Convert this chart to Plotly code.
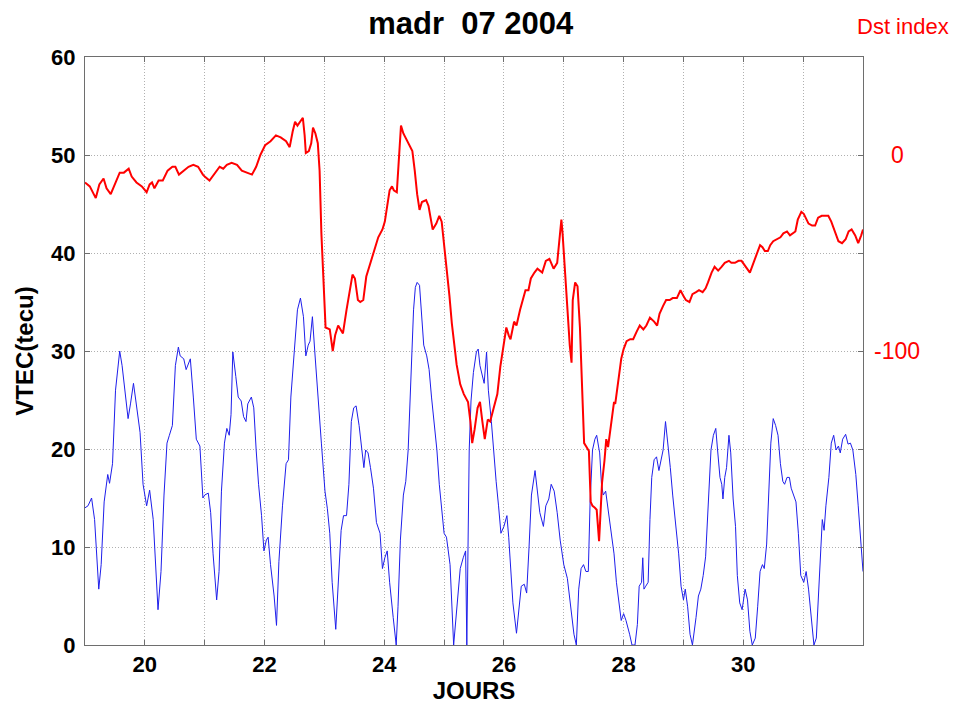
import plotly.graph_objects as go

# --- VTEC at Madrid (TEC units), July 2004, day of month ---
vtec_days = [
    19.00, 19.05, 19.11, 19.16, 19.23, 19.27, 19.32, 19.38, 19.41, 19.46, 19.51, 19.58, 19.62, 19.68,
    19.72, 19.76, 19.81, 19.85, 19.92, 19.97, 20.03, 20.08, 20.14, 20.22, 20.27, 20.32, 20.37, 20.41,
    20.46, 20.51, 20.56, 20.59, 20.65, 20.69, 20.76, 20.81, 20.86, 20.92, 20.97,
    21.00, 21.06, 21.10, 21.14, 21.20, 21.24, 21.28, 21.33, 21.37, 21.41, 21.44, 21.47, 21.52, 21.56,
    21.61, 21.65, 21.69, 21.72, 21.78, 21.82, 21.86, 21.90, 21.95, 21.99, 22.03, 22.06, 22.10, 22.16,
    22.20, 22.24, 22.30, 22.36, 22.40, 22.44, 22.50, 22.55, 22.60, 22.65, 22.69, 22.73, 22.76, 22.80,
    22.84, 22.89, 22.95, 23.01, 23.05,
    23.09, 23.13, 23.19, 23.23, 23.28, 23.32, 23.37, 23.41, 23.45, 23.49, 23.53, 23.58, 23.62, 23.66,
    23.69, 23.73, 23.77, 23.82, 23.87, 23.93, 23.97, 24.01, 24.05, 24.09, 24.15, 24.20, 24.23, 24.27,
    24.32, 24.36, 24.40, 24.44, 24.49, 24.52, 24.55, 24.59, 24.63, 24.66, 24.71, 24.75, 24.79, 24.83,
    24.88, 24.92, 24.96, 25.00, 25.04, 25.10,
    25.16, 25.21, 25.27, 25.32, 25.36, 25.38, 25.40, 25.42, 25.45, 25.49, 25.54, 25.57, 25.60, 25.64,
    25.67, 25.71, 25.74, 25.79, 25.83, 25.87, 25.91, 25.95, 26.00, 26.05, 26.08, 26.11, 26.15, 26.21,
    26.25, 26.29, 26.34, 26.38, 26.42, 26.46, 26.52, 26.56, 26.60, 26.66, 26.70, 26.75, 26.79, 26.84,
    26.89, 26.94, 27.00, 27.06, 27.11, 27.17, 27.21, 27.25,
    27.29, 27.33, 27.37, 27.41, 27.44, 27.48, 27.52, 27.55, 27.58, 27.60, 27.63, 27.66, 27.70, 27.74,
    27.78, 27.84, 27.88, 27.92, 27.96, 28.00, 28.04, 28.10, 28.14, 28.19, 28.23, 28.26, 28.30, 28.32,
    28.34, 28.37, 28.41, 28.44, 28.47, 28.51, 28.55, 28.59, 28.63, 28.66, 28.70, 28.74, 28.78, 28.82,
    28.88, 28.92, 28.96, 29.00, 29.03, 29.07, 29.11, 29.15, 29.21, 29.25, 29.29, 29.33,
    29.37, 29.42, 29.46, 29.50, 29.54, 29.57, 29.61, 29.64, 29.66, 29.69, 29.72, 29.76, 29.79, 29.83,
    29.87, 29.90, 29.94, 29.98, 30.03, 30.07, 30.11, 30.15, 30.20, 30.24, 30.28, 30.32, 30.35, 30.39,
    30.43, 30.46, 30.50, 30.54, 30.58, 30.62, 30.66, 30.69, 30.73, 30.77, 30.80, 30.84, 30.88, 30.92,
    30.96, 31.01, 31.05, 31.09, 31.14, 31.18, 31.22, 31.26, 31.29, 31.32, 31.35, 31.38, 31.43, 31.47,
    31.51, 31.55, 31.59, 31.62, 31.66, 31.71, 31.75, 31.79, 31.83, 31.88, 31.92, 31.96, 31.99, 32.00,
]
vtec_values = [
    14.0, 14.2, 15.0, 12.8, 5.7, 8.2, 14.6, 17.4, 16.5, 18.5, 26.0, 30.0, 28.5, 25.6,
    23.1, 24.6, 26.7, 24.9, 21.7, 16.4, 14.2, 15.8, 12.8, 3.6, 7.5, 15.3, 20.6, 21.4,
    22.4, 28.5, 30.4, 29.5, 29.2, 28.1, 29.2, 25.3, 21.0, 20.3, 15.0,
    15.3, 15.5, 13.5, 9.3, 4.6, 7.5, 15.7, 20.6, 22.1, 21.4, 23.5, 29.9, 27.4, 25.3,
    24.9, 23.3, 22.8, 24.6, 25.3, 24.2, 19.9, 16.4, 13.2, 9.6, 10.7, 11.0, 8.2, 5.0,
    2.0, 8.5, 14.2, 18.5, 18.9, 25.3, 30.2, 34.2, 35.4, 33.5, 29.5, 30.6, 31.0, 33.5,
    29.9, 25.3, 20.6, 15.7, 13.9,
    11.4, 6.4, 1.6, 5.7, 11.7, 13.2, 13.2, 16.4, 22.8, 24.2, 24.4, 22.4, 20.3, 18.1,
    19.9, 19.6, 18.1, 16.0, 12.5, 11.4, 7.8, 8.9, 9.6, 6.4, 2.8, 0.0, 3.9, 10.7,
    15.3, 16.7, 19.9, 27.0, 34.2, 36.5, 37.0, 36.7, 32.7, 30.6, 29.5, 28.1, 25.3, 22.8,
    19.9, 16.4, 13.5, 11.4, 11.0, 8.2,
    0.0, 3.9, 7.8, 8.9, 9.6, 0.0, 9.3, 19.9, 24.9, 27.8, 29.9, 30.2, 28.5, 27.4,
    26.7, 29.9, 26.0, 22.8, 19.6, 16.7, 14.2, 11.4, 12.1, 13.2, 11.0, 8.2, 4.3, 1.2,
    3.9, 6.0, 6.2, 5.3, 10.0, 15.3, 17.8, 15.7, 13.5, 12.1, 14.2, 14.9, 16.4, 15.7,
    13.5, 10.7, 8.2, 6.8, 3.9, 1.1, 0.0, 5.7,
    7.8, 8.2, 7.5, 7.5, 14.6, 19.9, 21.0, 21.4, 20.3, 19.6, 16.4, 15.3, 15.7, 13.9,
    11.7, 9.3, 6.4, 4.3, 2.5, 3.2, 2.5, 1.1, 0.0, 0.0, 2.1, 6.0, 6.4, 8.9,
    5.7, 6.0, 6.4, 12.8, 17.1, 18.9, 19.2, 17.8, 19.2, 19.9, 22.8, 20.6, 18.1, 15.3,
    12.1, 9.3, 6.0, 4.6, 5.7, 3.9, 1.1, 0.0, 2.8, 5.0, 5.7, 7.1,
    9.0, 14.6, 19.9, 21.4, 22.1, 19.9, 17.1, 16.4, 14.9, 17.1, 18.1, 21.4, 19.6, 14.9,
    12.1, 7.1, 4.3, 3.6, 5.7, 4.6, 1.4, 0.0, 0.7, 3.9, 7.5, 8.2, 7.8, 10.3,
    16.4, 20.6, 23.1, 22.4, 21.4, 18.5, 16.7, 16.4, 17.1, 17.1, 16.0, 15.3, 14.6, 11.4,
    7.1, 6.4, 7.5, 5.7, 2.8, 0.0, 0.7, 5.7, 10.3, 12.8, 11.7, 14.2, 17.1, 20.6,
    21.4, 19.9, 20.3, 19.6, 21.0, 21.5, 20.5, 20.6, 19.9, 17.4, 14.2, 10.3, 7.8, 7.5,
]

# --- Dst index (nT) over the same days ---
dst_days = [
    19.00, 19.08, 19.18, 19.24, 19.31, 19.36, 19.43, 19.51, 19.58, 19.65, 19.73, 19.78, 19.86, 19.95,
    20.03, 20.08, 20.12, 20.16, 20.23, 20.30, 20.38, 20.46, 20.51, 20.57, 20.65, 20.73, 20.81, 20.89,
    20.97,
    21.00, 21.08, 21.17, 21.25, 21.31, 21.37, 21.45, 21.54, 21.62, 21.71, 21.79, 21.86, 21.93, 22.01,
    22.10, 22.19, 22.27, 22.36, 22.42, 22.47, 22.51, 22.55, 22.59, 22.64, 22.67, 22.69, 22.74, 22.78,
    22.81, 22.85, 22.89, 22.92, 22.95, 22.98, 23.01, 23.02, 23.09, 23.14, 23.18, 23.23, 23.29,
    23.31, 23.37, 23.42, 23.47, 23.51, 23.56, 23.60, 23.65, 23.70, 23.76, 23.83, 23.90, 23.97, 24.01,
    24.05, 24.09, 24.13, 24.16, 24.21, 24.25, 24.28, 24.32, 24.37, 24.42, 24.47, 24.51, 24.55, 24.59,
    24.63, 24.70, 24.74, 24.78, 24.81, 24.87, 24.92, 24.96, 25.00, 25.04, 25.09, 25.13, 25.17, 25.21,
    25.27, 25.33, 25.40, 25.44, 25.47, 25.51, 25.56, 25.60, 25.64, 25.68, 25.73, 25.77, 25.83, 25.89,
    25.94, 25.99, 26.04, 26.08, 26.11, 26.17, 26.21, 26.27, 26.32, 26.36, 26.41, 26.45, 26.51, 26.56,
    26.64, 26.70, 26.76, 26.83, 26.89, 26.93, 26.96, 26.98, 27.02, 27.06, 27.10, 27.13, 27.15, 27.19,
    27.23, 27.27, 27.30, 27.34, 27.38, 27.42,
    27.45, 27.48, 27.52, 27.55, 27.59, 27.62, 27.64, 27.68, 27.71, 27.74, 27.77, 27.81, 27.84, 27.86,
    27.89, 27.93, 27.96, 28.00, 28.05, 28.11, 28.16, 28.22, 28.27, 28.33, 28.38, 28.44, 28.51, 28.56,
    28.60, 28.66, 28.71, 28.77, 28.82, 28.89, 28.95, 29.00, 29.04, 29.10, 29.15, 29.21, 29.26, 29.32,
    29.37,
    29.41, 29.47, 29.52, 29.58, 29.64, 29.69, 29.76, 29.80, 29.86, 29.92, 29.97, 30.02, 30.07, 30.11,
    30.17, 30.22, 30.28, 30.32, 30.36, 30.41, 30.45, 30.50, 30.56, 30.62, 30.67, 30.73, 30.78, 30.82,
    30.87, 30.91, 30.97, 31.01, 31.05, 31.09, 31.15, 31.20, 31.25, 31.31, 31.36, 31.42, 31.47, 31.53,
    31.59, 31.65, 31.71, 31.76, 31.81, 31.87, 31.92, 31.97, 32.00,
]
dst_values = [
    -14, -16, -22, -15, -12, -17, -20, -14, -9, -9, -7, -11, -14, -16,
    -19, -15, -14, -17, -13, -13, -8, -6, -6, -10, -8, -6, -5, -6,
    -10,
    -11, -13, -9, -6, -7, -5, -4, -5, -8, -9, -10, -6, 0, 5,
    7, 10, 9, 7, 4, 12, 17, 15, 17, 19, 10, 1, 2, 6,
    14, 11, 6, -8, -40, -62, -79, -88, -89, -100, -92, -87, -90,
    -91, -79, -70, -61, -63, -74, -75, -74, -62, -56, -49, -42, -38, -34,
    -26, -18, -16, -18, -19, 1, 15, 11, 8, 5, 2, -8, -20, -28,
    -24, -23, -26, -33, -38, -35, -31, -34, -45, -58, -72, -86, -97, -107,
    -117, -122, -126, -136, -147, -140, -129, -126, -136, -145, -135, -136, -129, -122,
    -108, -99, -88, -92, -94, -85, -87, -79, -74, -69, -69, -63, -60, -58,
    -60, -54, -53, -58, -55, -44, -33, -40, -58, -81, -97, -106, -74, -65,
    -67, -88, -115, -147, -149, -151,
    -177, -179, -180, -181, -197, -177, -167, -156, -145, -149, -142, -133, -126, -127,
    -120, -113, -104, -99, -95, -94, -94, -90, -87, -89, -87, -83, -85, -87,
    -81, -77, -74, -74, -73, -73, -69, -72, -74, -75, -71, -70, -69, -70,
    -68,
    -65, -60, -57, -59, -57, -55, -54, -55, -55, -54, -54, -56, -58, -60,
    -55, -51, -46, -47, -49, -49, -46, -44, -43, -42, -40, -39, -41, -40,
    -39, -33, -29, -30, -33, -35, -36, -36, -32, -31, -31, -31, -34, -39,
    -44, -45, -43, -39, -38, -41, -45, -41, -38,
]

x_tick_labels = [20, 22, 24, 26, 28, 30]
vtec_ticks = [0, 10, 20, 30, 40, 50, 60]
dst_labels = [0, -100]

FONT = "Liberation Sans, Arial, sans-serif"
GRID = "#b0b0b0"
FRAME = "#6e6e6e"

# plot-area edges in pixels, used to place the paper-referenced text
L, R, T, B = 85, 863, 57, 647
W, H = 954, 706


def px_to_paper_x(px):
    return (px - L) / (R - L)


def px_to_paper_y(py):
    return (B - py) / (B - T)


fig = go.Figure()
fig.add_trace(go.Scatter(
    x=vtec_days, y=vtec_values, mode="lines",
    line=dict(color="rgb(30,30,235)", width=1),
    name="VTEC", yaxis="y",
))
fig.add_trace(go.Scatter(
    x=dst_days, y=dst_values, mode="lines",
    line=dict(color="#ff0000", width=2),
    name="Dst", yaxis="y2",
))

fig.update_layout(
    width=W, height=H,
    margin=dict(l=L, r=W - R, t=T, b=H - B),
    paper_bgcolor="white", plot_bgcolor="white",
    showlegend=False,
    font=dict(family=FONT, color="black"),
    title=dict(
        text="<b>madr\u00a0 07 2004</b>",
        x=473 / W, xanchor="center", xref="paper",
        y=1 - 23 / H, yanchor="middle", yref="container",
        font=dict(family=FONT, size=31, color="black"),
    ),
    xaxis=dict(
        range=[19, 32], tickvals=x_tick_labels,
        ticks="inside", ticklen=5, tickcolor=FRAME,
        showline=True, linecolor=FRAME, linewidth=1, mirror="ticks",
        showgrid=True, gridcolor=GRID, griddash="1px,2px", gridwidth=1,
        minor=dict(dtick=1, tick0=19, ticks="inside", ticklen=5, tickcolor=FRAME,
                   showgrid=True, gridcolor=GRID, griddash="1px,2px", gridwidth=1),
        tickfont=dict(family=FONT, size=22, color="black", weight="bold"),
        title=dict(text="<b>JOURS</b>", font=dict(family=FONT, size=24, color="black"),
                   standoff=0),
        zeroline=False,
    ),
    yaxis=dict(
        range=[0, 60], tickvals=vtec_ticks,
        ticks="inside", ticklen=5, tickcolor=FRAME,
        showline=True, linecolor=FRAME, linewidth=1, mirror="ticks",
        showgrid=True, gridcolor=GRID, griddash="1px,2px", gridwidth=1,
        tickfont=dict(family=FONT, size=22, color="black", weight="bold"),
        ticklabelstandoff=4,
        title=dict(text="<b>VTEC(tecu)</b>", font=dict(family=FONT, size=24, color="black"),
                   standoff=10),
        zeroline=False,
    ),
    yaxis2=dict(
        overlaying="y", side="right", range=[-250, 50],
        showgrid=False, showline=False, zeroline=False,
        showticklabels=False, ticks="",
    ),
)

# Dst scale labels, centred to the right of the frame
for v in dst_labels:
    fig.add_annotation(
        x=px_to_paper_x(897), xref="paper", y=v, yref="y2",
        text=str(v), showarrow=False, xanchor="center", yanchor="middle",
        font=dict(family=FONT, size=23, color="#ff0000"),
    )

fig.add_annotation(
    x=px_to_paper_x(903), xref="paper", y=px_to_paper_y(26), yref="paper",
    text="Dst index", showarrow=False, xanchor="center", yanchor="middle",
    font=dict(family=FONT, size=22, color="#ff0000"),
)

fig.write_html("out.html")
